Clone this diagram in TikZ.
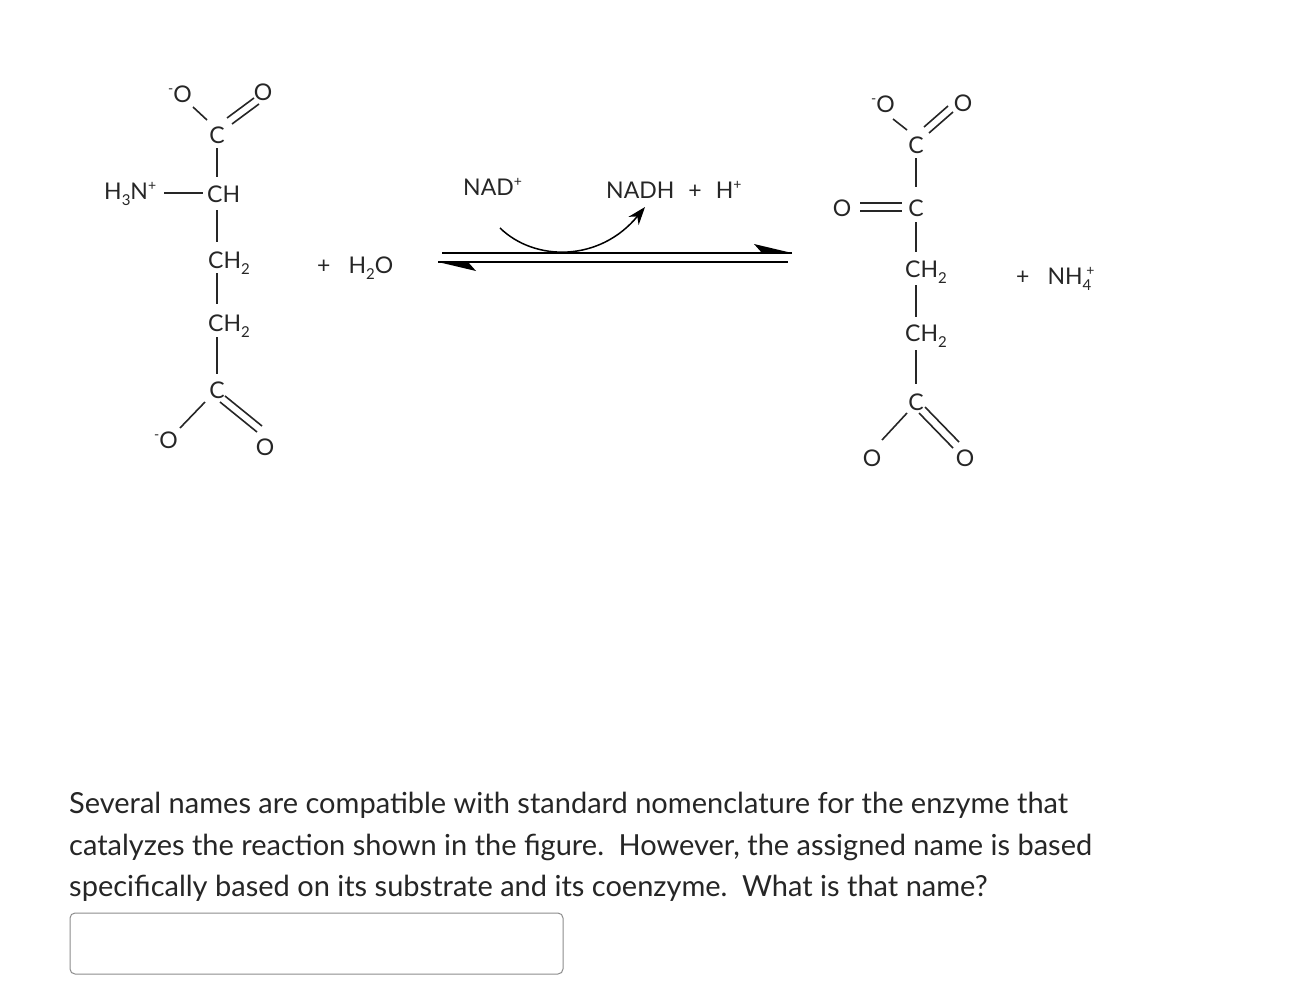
\documentclass[tikz,border=0pt]{standalone}
\usepackage{fontspec}
\setmainfont{Lato}
\usetikzlibrary{arrows.meta}
\newcommand{\sub}[1]{\raisebox{-0.5ex}{\fontsize{15}{15}\selectfont #1}}
\newcommand{\supx}[1]{\raisebox{0.75ex}{\fontsize{14}{14}\selectfont #1}}
\begin{document}
\begin{tikzpicture}[x=1pt,y=-1pt,
  atom/.style={inner sep=0pt,font=\fontsize{23}{23}\selectfont,text=black!85},
  grp/.style={atom,anchor=west},
  bond/.style={line width=1.6pt,black!85},
  txt/.style={anchor=west,font=\fontsize{29}{29}\selectfont,text=black!85,inner sep=0pt}]
\useasboundingbox[fill=white] (0,0) rectangle (1300,985);
% left molecule
\node[atom] (lOm) at (180,94) {\supx{-}O};
\node[atom] (lO1) at (263,92) {O};
\node[atom] (lC1) at (217,135) {C};
\node[grp] (lCH) at (207,194) {CH};
\node[grp] (lN) at (104,194) {H\sub{3}N\supx{+}};
\node[grp] (lCH2a) at (208,263) {CH\sub{2}};
\node[grp] (lCH2b) at (208,326) {CH\sub{2}};
\node[atom] (lC2) at (217,390) {C};
\node[atom] (lOm2) at (166,440) {\supx{-}O};
\node[atom] (lO2) at (265,447) {O};
\draw[bond] (193,107) -- (207,120);
\draw[bond] (227,118) -- (254,98) (232,124) -- (259,104);
\draw[bond] (217,148) -- (217,177);
\draw[bond] (164,193) -- (203,193);
\draw[bond] (217,210) -- (217,242);
\draw[bond] (217,273) -- (217,304);
\draw[bond] (217,337) -- (217,374);
\draw[bond] (205,402) -- (180,428);
\draw[bond] (220,402) -- (257,432) (225,396) -- (262,426);
\node[grp] (h2o) at (317,268) {+\hspace{18pt}H\sub{2}O};
% arrows
\node[grp] (nad) at (463,187) {NAD\supx{+}};
\node[grp] (nadh) at (606,190) {NADH\hspace{14pt}+\hspace{14pt}H\supx{+}};
\coordinate (ar1) at (442,253); \coordinate (ar2) at (792,253);
\coordinate (al1) at (438,262); \coordinate (al2) at (788,262);
\draw[line width=2.2pt] (ar1) -- (ar2);
\fill (ar2) -- (754,244) -- (762,253) -- cycle;
\draw[line width=2.2pt] (al1) -- (al2);
\fill (al1) -- (476,271) -- (468,262) -- cycle;
\draw[line width=1.5pt,-{Stealth[length=18pt,width=13pt]}] (500,228) .. controls (535,262) and (600,262) .. (645,207);
% right molecule
\node[atom] (rOm) at (883,104) {\supx{-}O};
\node[atom] (rO1) at (963,103) {O};
\node[atom] (rC1) at (916,145) {C};
\node[atom] (rC2) at (916,208) {C};
\node[atom] (rO2) at (842,208) {O};
\node[grp] (rCH2a) at (905,272) {CH\sub{2}};
\node[grp] (rCH2b) at (905,336) {CH\sub{2}};
\node[atom] (rC3) at (916,402) {C};
\node[atom] (rO3) at (872,458) {O};
\node[atom] (rO4) at (965,458) {O};
\draw[bond] (893,119) -- (907,130);
\draw[bond] (924,127) -- (948,106) (929,133) -- (953,112);
\draw[bond] (916,158) -- (916,187);
\draw[bond] (860,203) -- (902,203) (860,211) -- (902,211);
\draw[bond] (916,222) -- (916,252);
\draw[bond] (916,285) -- (916,317);
\draw[bond] (916,350) -- (916,384);
\draw[bond] (907,413) -- (882,440);
\draw[bond] (919,413) -- (953,448) (925,407) -- (959,442);
\node[grp] (nh4) at (1016,279) {+\hspace{18pt}NH\sub{4}\hspace{-5pt}\supx{+}};
% question text
\node[txt] (q1) at (69,805) {Several names are compatible with standard nomenclature for the enzyme that};
\node[txt] (q2) at (69,847) {catalyzes the reaction shown in the figure.\enspace However, the assigned name is based};
\node[txt] (q3) at (69,888) {specifically based on its substrate and its coenzyme.\enspace What is that name?};
\draw[black!45,line width=1pt,rounded corners=5pt] (70,913) rectangle (563,974);
\end{tikzpicture}
\end{document}
